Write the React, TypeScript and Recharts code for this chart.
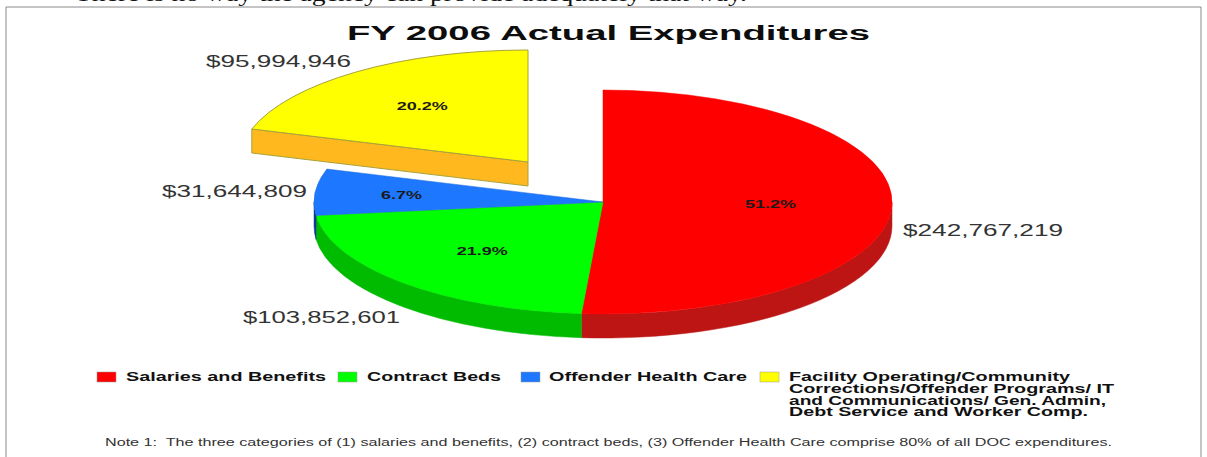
import React from 'react';
import { PieChart, Pie, Legend } from 'recharts';

const categories = ['Salaries and Benefits', 'Contract Beds', 'Offender Health Care', 'Facility Operating/Community'];
const extraLegendLines = [
  'Corrections/Offender Programs/ IT',
  'and Communications/ Gen. Admin,',
  'Debt Service and Worker Comp.'
];
const expenditures = [242767219, 103852601, 31644809, 95994946];
const topFills = ['#ff0000', '#00ff00', '#1e78ff', '#ffff00'];
const sideFills = ['#bd1414', '#00bb00', '#0a3c96', '#ffb81e'];
const edgeStrokes = ['#ff0000', '#00e000', '#1a68d8', '#a8a23a'];

const W = 1207;
const H = 457;
const CX = 603;
const CY = 202;
const RX = 289;
const RY = 112;
const DEPTH = 24;
// the last slice is pulled away from the pie
const EXPLODED = 'Facility Operating/Community';
const EXPLODE_DX = -75;
const EXPLODE_DY = -40;

// where along the radius each percentage sits, and where the dollar amounts go
const percentRadius = [0.58, 0.605, 0.7, 0.616];
const amountBoxes = [
  { x: 903, y: 236, w: 160 },
  { x: 243, y: 323, w: 157 },
  { x: 162, y: 197, w: 145 },
  { x: 206, y: 67, w: 145 }
];
const percentWidths = [51, 51, 41, 51];

const legendSwatches = [97, 338, 521, 760];
const legendTexts = [
  { x: 126, w: 200 },
  { x: 367, w: 134 },
  { x: 549, w: 198 },
  { x: 789, w: 281 }
];
const extraLegendWidths = [325, 317, 299];

const tableData = categories.map((name, i) => ({
  name,
  value: expenditures[i],
  fill: topFills[i],
  side: sideFills[i],
  edge: edgeStrokes[i]
}));

const FONT = '"Liberation Sans", Arial, sans-serif';

const rad = (deg: number) => (deg * Math.PI) / 180;

// Flattened pie slice with its visible side walls
const SliceShape = (props: any) => {
  const { startAngle, endAngle, fill, name } = props;
  const side = props.side ?? props.payload?.side;
  const edge = props.edge ?? props.payload?.edge;
  const exploded = name === EXPLODED;
  const ox = CX + (exploded ? EXPLODE_DX : 0);
  const oy = CY + (exploded ? EXPLODE_DY : 0);
  const pt = (a: number, d = 0) => `${ox + RX * Math.cos(rad(a))} ${oy - RY * Math.sin(rad(a)) + d}`;
  const large = startAngle - endAngle > 180 ? 1 : 0;
  const top = `M ${ox} ${oy} L ${pt(startAngle)} A ${RX} ${RY} 0 ${large} 1 ${pt(endAngle)} Z`;

  const a1 = Math.min(startAngle, 0);
  const a2 = Math.max(endAngle, -180);
  const wall =
    a1 > a2
      ? `M ${pt(a1)} A ${RX} ${RY} 0 0 1 ${pt(a2)} L ${pt(a2, DEPTH)} A ${RX} ${RY} 0 0 0 ${pt(a1, DEPTH)} Z`
      : null;

  return (
    <g>
      {wall && <path d={wall} fill={side} stroke={side} strokeWidth={0.5} />}
      {exploded && (
        <path
          d={`M ${pt(startAngle)} L ${ox} ${oy} L ${ox} ${oy + DEPTH} L ${pt(startAngle, DEPTH)} Z`}
          fill={side}
          stroke={edge}
          strokeWidth={1}
        />
      )}
      <path d={top} fill={fill} stroke={edge} strokeWidth={exploded ? 1 : 0.5} />
    </g>
  );
};

const SliceLabel = (props: any) => {
  const { index, midAngle, percent, value, name } = props;
  const exploded = name === EXPLODED;
  const ox = CX + (exploded ? EXPLODE_DX : 0);
  const oy = CY + (exploded ? EXPLODE_DY : 0);
  const f = percentRadius[index];
  const px = ox + RX * f * Math.cos(rad(midAngle));
  const py = oy - RY * f * Math.sin(rad(midAngle));
  const box = amountBoxes[index];
  const pw = percentWidths[index];
  return (
    <g>
      <text
        x={px - pw / 2}
        y={py + 4}
        textLength={pw}
        lengthAdjust="spacingAndGlyphs"
        fontFamily={FONT}
        fontWeight="bold"
        fontSize={11}
        fill="#1a1a1a"
      >
        {(percent * 100).toFixed(1)}%
      </text>
      <text
        x={box.x}
        y={box.y}
        textLength={box.w}
        lengthAdjust="spacingAndGlyphs"
        fontFamily={FONT}
        fontSize={16}
        fill="#333333"
      >
        ${value.toLocaleString('en-US')}
      </text>
    </g>
  );
};

const LegendContent = (props: any) => (
  <div style={{ position: 'relative', height: 0 }}>
    <svg width={W} height={H} style={{ position: 'absolute', left: 0, top: 0, pointerEvents: 'none' }}>
      {(props.payload ?? []).map((entry: any, i: number) => (
        <g key={entry.value}>
          <rect x={legendSwatches[i]} y={372} width={19} height={10} fill={entry.color} stroke="#999999" strokeWidth={0.5} />
          <text
            x={legendTexts[i].x}
            y={381}
            textLength={legendTexts[i].w}
            lengthAdjust="spacingAndGlyphs"
            fontFamily={FONT}
            fontWeight="bold"
            fontSize={12}
            fill="#111111"
          >
            {entry.value}
          </text>
        </g>
      ))}
      {extraLegendLines.map((line, i) => (
        <text
          key={line}
          x={789}
          y={393 + i * 11.7}
          textLength={extraLegendWidths[i]}
          lengthAdjust="spacingAndGlyphs"
          fontFamily={FONT}
          fontWeight="bold"
          fontSize={12}
          fill="#111111"
        >
          {line}
        </text>
      ))}
    </svg>
  </div>
);

export default function App() {
  return (
    <div style={{ position: 'absolute', left: 0, top: 0, width: W, height: H, overflow: 'hidden', background: '#fff' }}>
      <PieChart width={W} height={H} margin={{ top: 0, right: 0, bottom: 0, left: 0 }}>
        <text
          x={75}
          y={1}
          textLength={672}
          lengthAdjust="spacingAndGlyphs"
          fontFamily='"Liberation Serif", serif'
          fontSize={20}
          fill="#111111"
        >
          There is no way the agency can provide adequately that way.
        </text>
        <path d={`M 6 ${H + 2} L 6 7 L 1201 7 L 1201 ${H + 2}`} fill="none" stroke="#8a8a8a" strokeWidth={1} />
        <text
          x={347}
          y={40}
          textLength={523}
          lengthAdjust="spacingAndGlyphs"
          fontFamily={FONT}
          fontWeight="bold"
          fontSize={20}
          fill="#0d0d0d"
        >
          FY 2006 Actual Expenditures
        </text>
        <Pie
          data={tableData}
          dataKey="value"
          nameKey="name"
          cx={CX}
          cy={CY}
          innerRadius={0}
          outerRadius={RX}
          startAngle={90}
          endAngle={-270}
          stroke="none"
          shape={SliceShape}
          label={SliceLabel}
          labelLine={false}
          legendType="rect"
          isAnimationActive={false}
        />
        <Legend
          content={LegendContent}
          itemSorter={null}
          verticalAlign="top"
          wrapperStyle={{ left: 0, top: 0, width: W, height: 0 }}
        />
        <text
          x={105}
          y={446}
          textLength={1007}
          lengthAdjust="spacingAndGlyphs"
          fontFamily={FONT}
          fontSize={10}
          fill="#333333"
        >
          {'Note 1:\u00a0 The three categories of (1) salaries and benefits, (2) contract beds, (3) Offender Health Care comprise 80% of all DOC expenditures.'}
        </text>
      </PieChart>
    </div>
  );
}
